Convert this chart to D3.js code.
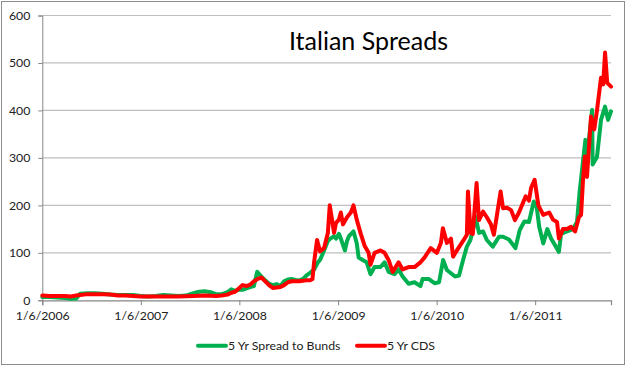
<!DOCTYPE html>
<html>
<head>
<meta charset="utf-8">
<script src="https://cdn.jsdelivr.net/npm/d3@7"></script>
<style>
  html, body { margin: 0; padding: 0; background: #fff; }
  svg { display: block; }
  text { font-family: Lato, "Open Sans", sans-serif; }
</style>
</head>
<body>
<svg id="chart" width="626" height="366"></svg>
<script>
const title = "Italian Spreads";
const seriesNames = ["5 Yr Spread to Bunds", "5 Yr CDS"];
const seriesColors = ["#00B050", "#FF0000"];
const yTicks = [0, 100, 200, 300, 400, 500, 600];
const xTickDates = ["2006-01-06", "2007-01-06", "2008-01-06", "2009-01-06", "2010-01-06", "2011-01-06"];
const xDomain = ["2006-01-06", "2011-10-14"];

const bundsDates = [
"2006-01-06","2006-02-03","2006-03-03","2006-03-31","2006-04-21","2006-05-12","2006-05-26","2006-06-23","2006-07-21","2006-08-18",
"2006-09-15","2006-10-13","2006-11-10","2006-12-08","2007-01-05","2007-02-02","2007-03-02","2007-03-30","2007-04-27","2007-05-25",
"2007-06-22","2007-07-20","2007-08-10","2007-08-31","2007-09-21","2007-10-12","2007-11-02","2007-11-23","2007-12-07","2007-12-21",
"2008-01-04","2008-01-18","2008-02-01","2008-02-15","2008-02-29","2008-03-12","2008-03-28","2008-04-11","2008-04-25","2008-05-09",
"2008-05-23","2008-06-06","2008-06-20","2008-07-04","2008-07-18","2008-08-01","2008-08-15","2008-08-29","2008-09-10","2008-09-24",
"2008-10-09","2008-10-23","2008-10-31","2008-11-15","2008-11-29","2008-12-08","2008-12-22","2008-12-29",
"2009-01-09","2009-01-16","2009-01-31","2009-02-08","2009-02-15","2009-03-04","2009-03-16","2009-03-23","2009-04-07","2009-04-22",
"2009-05-06","2009-05-21","2009-06-12","2009-06-27","2009-07-12","2009-08-03","2009-08-18","2009-09-02","2009-09-24","2009-10-16",
"2009-11-07","2009-11-15","2009-12-07","2009-12-29","2010-01-15","2010-01-30","2010-02-13","2010-02-28","2010-03-15","2010-03-30",
"2010-04-14","2010-04-28","2010-05-11","2010-05-21","2010-05-30","2010-06-12","2010-06-27","2010-07-11","2010-08-02","2010-08-25",
"2010-09-09","2010-10-01","2010-10-25","2010-11-10","2010-11-27","2010-12-14","2011-01-01","2011-01-12","2011-01-21","2011-02-05",
"2011-02-20","2011-03-06","2011-04-04","2011-04-12","2011-05-04","2011-05-26","2011-06-10","2011-06-20","2011-07-11","2011-07-17",
"2011-08-05","2011-08-07","2011-08-23","2011-09-07","2011-09-22","2011-10-03","2011-10-14"];
const bundsValues = [
7,7,6,5,3,4,14,15,15,14,
12,11,11,11,9,8,9,11,10,9,
10,15,18,19,17,13,13,17,23,20,
22,22,25,28,30,60,50,42,35,32,
34,30,40,44,45,43,42,45,52,58,
65,80,85,105,125,130,135,130,
140,130,105,125,135,145,120,90,85,80,
55,70,70,80,60,55,65,50,35,38,
30,45,45,36,38,85,64,57,50,52,
85,113,127,150,176,142,145,127,113,134,
134,128,110,148,166,165,208,195,155,120,
150,130,102,140,145,150,165,230,338,300,
401,286,302,380,408,380,398];

const cdsDates = [
"2006-01-06","2006-02-03","2006-03-03","2006-03-31","2006-04-21","2006-05-12","2006-05-26","2006-06-23","2006-07-21","2006-08-18",
"2006-09-15","2006-10-13","2006-11-10","2006-12-08","2007-01-05","2007-03-02","2007-05-25","2007-07-20","2007-08-31","2007-10-12",
"2007-11-02","2007-11-23","2007-12-07","2007-12-21","2008-01-04","2008-01-18","2008-02-01","2008-02-15","2008-02-29","2008-03-14",
"2008-03-28","2008-04-11","2008-04-25","2008-05-09","2008-05-23","2008-06-06","2008-06-20","2008-07-04","2008-07-18","2008-08-15",
"2008-09-10","2008-09-24","2008-10-03","2008-10-09","2008-10-20","2008-10-31","2008-11-15","2008-11-29","2008-12-06","2008-12-22",
"2008-12-29","2009-01-09","2009-01-16","2009-01-24","2009-02-08","2009-02-22","2009-03-04","2009-03-16","2009-03-31","2009-04-14",
"2009-04-29","2009-05-06","2009-05-21","2009-06-12","2009-06-27","2009-07-12","2009-07-27","2009-08-18","2009-09-02","2009-09-24",
"2009-10-16","2009-11-07","2009-11-22","2009-12-15","2010-01-07","2010-01-22","2010-01-29","2010-02-13","2010-02-28","2010-03-08",
"2010-03-22","2010-04-14","2010-04-28","2010-05-02","2010-05-12","2010-05-20","2010-06-03","2010-06-12","2010-06-27","2010-07-11",
"2010-07-26","2010-08-06","2010-08-31","2010-09-09","2010-09-24","2010-10-09","2010-10-23","2010-11-07","2010-12-02","2010-12-14",
"2010-12-22","2011-01-04","2011-01-18","2011-02-05","2011-02-27","2011-03-13","2011-03-28","2011-04-04","2011-04-19","2011-05-04",
"2011-05-19","2011-06-03","2011-06-17","2011-06-25","2011-07-02","2011-07-09","2011-07-17","2011-08-01","2011-08-13","2011-08-23",
"2011-09-07","2011-09-15","2011-09-22","2011-09-30","2011-10-14"];
const cdsValues = [
10,9,9,9,8,10,11,13,13,13,
12,10,10,9,8,8,8,9,10,9,
10,12,16,18,25,32,30,33,40,45,
48,40,32,26,27,28,32,38,40,40,
42,42,45,80,127,103,110,142,200,142,
163,170,185,160,175,185,200,170,140,115,
100,75,100,105,100,85,60,80,65,70,
70,80,90,110,100,121,152,121,130,92,
105,125,138,229,142,140,247,169,187,175,
160,138,229,194,195,190,169,185,219,210,
237,254,200,180,185,170,165,130,150,150,
155,145,175,180,250,303,260,387,360,400,
469,455,522,458,450];

const parse = d3.timeParse("%Y-%m-%d");
const series = [
  { name: seriesNames[0], color: seriesColors[0], data: bundsDates.map((d, i) => ({ date: parse(d), value: bundsValues[i] })) },
  { name: seriesNames[1], color: seriesColors[1], data: cdsDates.map((d, i) => ({ date: parse(d), value: cdsValues[i] })) }
];

const svg = d3.select("#chart");
const W = 626, H = 366;
const plot = { left: 42.3, right: 611, top: 15.5, bottom: 300.3 };

// outer border
svg.append("rect").attr("x", 1.5).attr("y", 1.5).attr("width", W - 3).attr("height", H - 3)
  .attr("fill", "#fff").attr("stroke", "#8c8c8c").attr("stroke-width", 1);

const x = d3.scaleTime().domain(xDomain.map(parse)).range([plot.left, plot.right]);
const y = d3.scaleLinear().domain([0, 600]).range([plot.bottom, plot.top]);

// gridlines
svg.append("g").selectAll("line").data(yTicks.filter(v => v > 0)).join("line")
  .attr("x1", plot.left).attr("x2", plot.right)
  .attr("y1", d => y(d)).attr("y2", d => y(d))
  .attr("stroke", "#bfbfbf").attr("stroke-width", 1.2);

// y axis
const yAxis = svg.append("g").attr("transform", `translate(${plot.left},0)`)
  .call(d3.axisLeft(y).tickValues(yTicks).tickSize(4).tickPadding(8).tickFormat(d3.format("d")));
yAxis.select(".domain").attr("stroke", "#868686");
yAxis.selectAll(".tick line").attr("stroke", "#868686");
yAxis.selectAll("text").attr("fill", "#222").style("font-size", "12.3px");

// x axis
const xAxis = svg.append("g").attr("transform", `translate(0,${plot.bottom})`)
  .call(d3.axisBottom(x).tickValues(xTickDates.map(parse)).tickSize(5).tickPadding(6)
    .tickFormat(d3.timeFormat("%-m/%-d/%Y")));
xAxis.select(".domain").attr("stroke", "#868686").attr("stroke-width", 1.2);
xAxis.selectAll(".tick line").attr("stroke", "#868686");
xAxis.selectAll("text").attr("fill", "#222").style("font-size", "12.3px");

// lines
const line = d3.line().x(d => x(d.date)).y(d => y(d.value)).curve(d3.curveLinear);
svg.append("g").selectAll("path").data(series).join("path")
  .attr("d", d => line(d.data))
  .attr("fill", "none").attr("stroke", d => d.color).attr("stroke-width", 4)
  .attr("stroke-linejoin", "round").attr("stroke-linecap", "round");

// title
svg.append("text").attr("x", 368.5).attr("y", 50).attr("text-anchor", "middle")
  .style("font-size", "25px").attr("fill", "#000").text(title);

// legend
const legendItems = [
  { x: 198, name: seriesNames[0], color: seriesColors[0] },
  { x: 357, name: seriesNames[1], color: seriesColors[1] }
];
const lg = svg.append("g").selectAll("g").data(legendItems).join("g")
  .attr("transform", d => `translate(${d.x},345.7)`);
lg.append("line").attr("x1", 0).attr("x2", 28).attr("y1", 0).attr("y2", 0)
  .attr("stroke", d => d.color).attr("stroke-width", 4).attr("stroke-linecap", "round");
lg.append("text").attr("x", 30).attr("y", 0).attr("dy", "0.35em")
  .style("font-size", "12.3px").attr("fill", "#222").text(d => d.name);
</script>
</body>
</html>
